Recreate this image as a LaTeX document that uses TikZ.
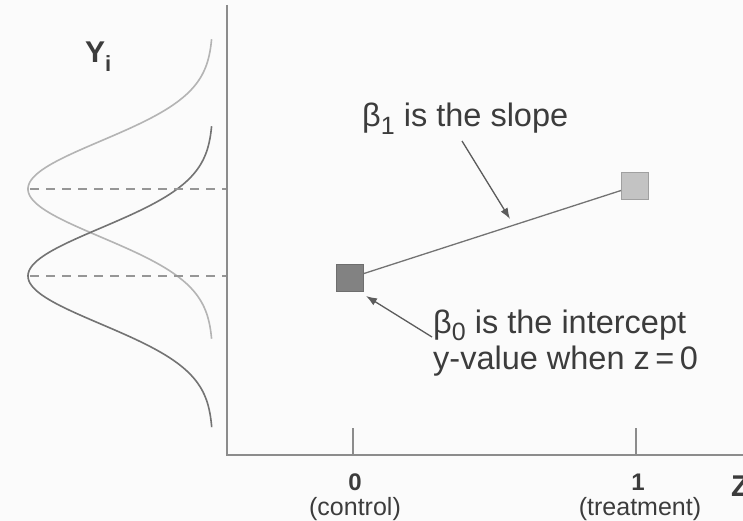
\documentclass[tikz,border=0pt]{standalone}
\usepackage{fontspec}
\setmainfont{Liberation Sans}
\usetikzlibrary{arrows.meta}
\definecolor{bg}{RGB}{251,251,251}
\definecolor{axisc}{RGB}{140,140,140}
\definecolor{txt}{RGB}{60,60,60}
\definecolor{lightc}{RGB}{180,180,180}
\definecolor{darkc}{RGB}{115,115,115}
\definecolor{dashc}{RGB}{150,150,150}
\definecolor{sqdark}{RGB}{130,130,130}
\definecolor{sqdarkb}{RGB}{110,110,110}
\definecolor{sqlight}{RGB}{195,195,195}
\definecolor{sqlightb}{RGB}{160,160,160}
\begin{document}
\begin{tikzpicture}[x=1pt,y=-1pt,
  lbl/.style={text=txt,font=\fontsize{32.5}{36}\selectfont,inner sep=0pt,anchor=base west},
  ticklbl/.style={text=txt,font=\fontsize{24}{26}\selectfont\bfseries,inner sep=0pt,anchor=base},
  condlbl/.style={text=txt,font=\fontsize{25}{27}\selectfont,inner sep=0pt,anchor=base},
  axisline/.style={draw=axisc,line width=2pt},
  curveL/.style={draw=lightc,line width=1.6pt},
  curveD/.style={draw=darkc,line width=1.6pt},
  dashln/.style={draw=dashc,line width=1.3pt,dash pattern=on 9pt off 7pt},
  sqbox/.style={rectangle,minimum size=27pt,inner sep=0pt,line width=1pt},
  arr/.style={draw=darkc!80!black,line width=1.3pt,-{Latex[length=11pt,width=8pt]}},
  connector/.style={draw=darkc,line width=1.3pt}]
\useasboundingbox[fill=bg] (0,0) rectangle (743,521);
% axes
\coordinate (ytop) at (227,5);
\coordinate (orig) at (227,455);
\coordinate (xend) at (745,455);
\draw[axisline] (ytop) -- (orig) -- (xend);
\coordinate (t0a) at (353,428);
\coordinate (t0b) at (353,455);
\coordinate (t1a) at (636,428);
\coordinate (t1b) at (636,455);
\draw[axisline] (t0a) -- (t0b);
\draw[axisline] (t1a) -- (t1b);
% distributions
\draw[curveL,domain=-3.12:3.12,samples=120,smooth,variable=\u]
  plot ({213-185*exp(-(\u)*(\u)/2)},{189+48*\u});
\draw[curveD,domain=-3.12:3.15,samples=120,smooth,variable=\u]
  plot ({213-185*exp(-(\u)*(\u)/2)},{276+48*\u});
\coordinate (m1a) at (30,189);
\coordinate (m1b) at (226,189);
\coordinate (m0a) at (30,276);
\coordinate (m0b) at (226,276);
\draw[dashln] (m1a) -- (m1b);
\draw[dashln] (m0a) -- (m0b);
% Y label
\node[text=txt,font=\fontsize{30}{30}\selectfont\bfseries,inner sep=0pt,anchor=base west] (ylab) at (85,63) {Y\raisebox{-9pt}{\fontsize{22}{22}\selectfont i}};
% Z label
\node[text=txt,font=\fontsize{30}{30}\selectfont\bfseries,inner sep=0pt,anchor=base west] (zlab) at (731,496) {Z};
% tick labels
\node[ticklbl] (l0) at (355,490) {0};
\node[condlbl] (c0) at (355,515) {(control)};
\node[ticklbl] (l1) at (638,490) {1};
\node[condlbl] (c1) at (640,515) {(treatment)};
% squares and line
\node[sqbox,fill=sqdark,draw=sqdarkb] (sq0) at (350,278) {};
\node[sqbox,fill=sqlight,draw=sqlightb] (sq1) at (635,186) {};
\draw[connector] (sq0) -- (sq1);
% labels
\node[lbl] (b1) at (362,127) {β\raisebox{-8pt}{\fontsize{25}{25}\selectfont 1} is the slope};
\node[lbl] (b0a) at (433,333) {β\raisebox{-7pt}{\fontsize{25}{25}\selectfont 0} is the intercept};
\node[lbl] (b0b) at (433,369) {y-value when z\,=\,0};
\coordinate (s1) at (462,141);
\coordinate (e1) at (510,219);
\draw[arr] (s1) -- (e1);
\coordinate (s0) at (432,337);
\coordinate (e0) at (366,296);
\draw[arr] (s0) -- (e0);
\end{tikzpicture}
\end{document}
